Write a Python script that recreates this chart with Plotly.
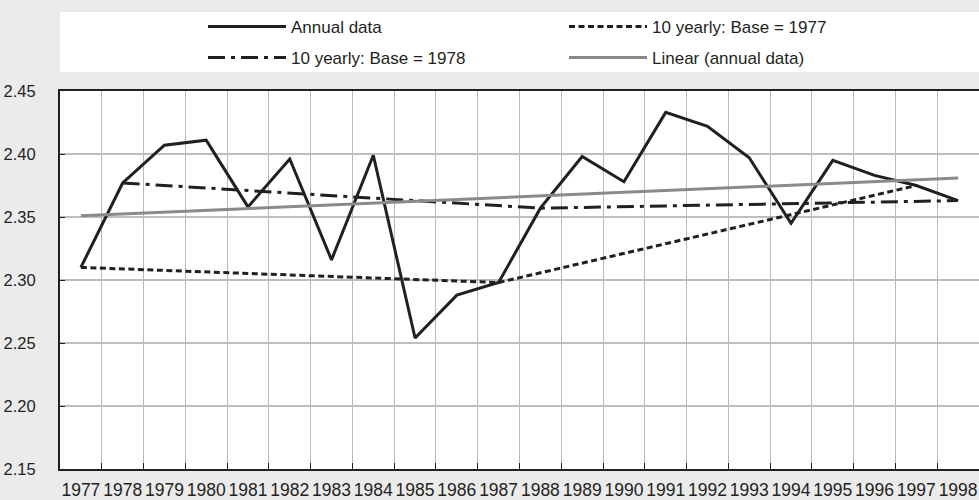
import plotly.graph_objects as go

years = list(range(1977, 1999))
annual = [2.310, 2.377, 2.407, 2.411, 2.358, 2.396, 2.316, 2.399, 2.254, 2.288, 2.298,
          2.357, 2.398, 2.378, 2.433, 2.422, 2.397, 2.345, 2.395, 2.383, 2.375, 2.363]
base77_years = [1977, 1987, 1997]
base77_vals = [2.310, 2.298, 2.375]
base78_years = [1978, 1988, 1998]
base78_vals = [2.377, 2.357, 2.363]
trend_years = [1977, 1998]
trend_vals = [2.351, 2.381]
y_ticks = [2.15, 2.20, 2.25, 2.30, 2.35, 2.40, 2.45]
boundaries = [y + 0.5 for y in range(1977, 1998)]

DARK = "#231f20"
FONT = "Liberation Sans, Arial, sans-serif"

fig = go.Figure()
fig.add_trace(go.Scatter(x=years, y=annual, mode="lines", name="Annual data",
                         line=dict(color=DARK, width=3), legend="legend"))
fig.add_trace(go.Scatter(x=base77_years, y=base77_vals, mode="lines", name="10 yearly: Base = 1977",
                         line=dict(color=DARK, width=3, dash="6px,3.5px"), legend="legend"))
fig.add_trace(go.Scatter(x=base78_years, y=base78_vals, mode="lines", name="10 yearly: Base = 1978",
                         line=dict(color=DARK, width=3, dash="17px,6px,4px,6px"), legend="legend2"))
fig.add_trace(go.Scatter(x=trend_years, y=trend_vals, mode="lines", name="Linear (annual data)",
                         line=dict(color="#8a8a8c", width=3), legend="legend2"))

legend_common = dict(orientation="h", xref="container", yref="container",
                     xanchor="left", yanchor="middle", bgcolor="rgba(0,0,0,0)",
                     font=dict(family=FONT, size=17, color=DARK),
                     itemwidth=78, entrywidth=268, entrywidthmode="pixels",
                     traceorder="normal", borderwidth=0)

fig.update_layout(
    width=979, height=500,
    paper_bgcolor="#ebebeb", plot_bgcolor="#ffffff",
    margin=dict(l=60, r=0, t=91, b=31),
    font=dict(family=FONT, size=17, color=DARK),
    showlegend=True,
    legend=dict(x=203 / 979, y=1 - 27 / 500, **legend_common),
    legend2=dict(x=203 / 979, y=1 - 58 / 500, **legend_common),
    shapes=[dict(type="rect", xref="paper", yref="paper", x0=0, x1=1.01,
                 y0=1 + 19 / 378, y1=1 + 79 / 378, fillcolor="#ffffff",
                 line=dict(width=0), layer="below")],
    xaxis=dict(range=[1976.5, 1998.5], tickvals=years, ticktext=[str(y) for y in years],
               tickangle=0, tickfont=dict(family=FONT, size=17.5, color=DARK),
               showgrid=False, zeroline=False, ticks="", showline=True, mirror=True,
               linecolor=DARK, linewidth=2, ticklabelstandoff=4, automargin=False,
               minor=dict(tickvals=boundaries, showgrid=True, gridcolor="#b9b9b9",
                          gridwidth=1.2, ticks="inside", ticklen=6, tickcolor=DARK, tickwidth=1)),
    yaxis=dict(range=[2.15, 2.45], tickvals=y_ticks, tickformat=".2f",
               tickfont=dict(family=FONT, size=16.5, color=DARK),
               showgrid=True, gridcolor="#bdbdbd", gridwidth=1.5, zeroline=False,
               ticks="inside", ticklen=5, tickcolor=DARK, showline=True, mirror=True,
               linecolor=DARK, linewidth=2, ticklabelstandoff=19, automargin=False),
)

fig.write_html("out.html", config={"displayModeBar": False},
               post_script="document.body.style.margin='0';document.body.style.overflow='hidden';")
